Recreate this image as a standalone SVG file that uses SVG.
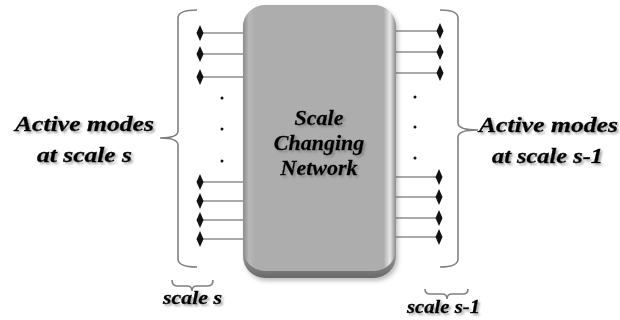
<svg xmlns="http://www.w3.org/2000/svg" width="620" height="320" viewBox="0 0 620 320">
<style>
.lbl{font-family:"Liberation Serif","Times New Roman",serif;font-weight:700;font-style:italic;fill:#000;stroke:#000;stroke-width:0.35}
.brace{fill:none;stroke:#808080;stroke-width:1.6}
.wire{stroke:#555;stroke-width:1.2}
.dot{fill:#111}
</style>
<defs>
<filter id="ts" x="-10%" y="-20%" width="130%" height="160%">
<feGaussianBlur in="SourceAlpha" stdDeviation="1"/>
<feOffset dx="2" dy="2" result="b"/>
<feFlood flood-color="#666" flood-opacity="0.55"/>
<feComposite in2="b" operator="in" result="s"/>
<feMerge><feMergeNode in="s"/><feMergeNode in="SourceGraphic"/></feMerge>
</filter>
<filter id="bs" x="-10%" y="-10%" width="130%" height="130%">
<feDropShadow dx="2" dy="3" stdDeviation="2" flood-color="#000" flood-opacity="0.25"/>
</filter>
<linearGradient id="edge" x1="0" y1="0" x2="0" y2="1">
<stop offset="0" stop-color="#c4c4c4"/>
<stop offset="0.9" stop-color="#9a9a9a"/>
<stop offset="1" stop-color="#6a6a6a"/>
</linearGradient>
<linearGradient id="side" x1="0" y1="0" x2="1" y2="0">
<stop offset="0" stop-color="#8c8c8c"/>
<stop offset="0.04" stop-color="#b8b8b8"/>
<stop offset="0.08" stop-color="#adadad"/>
<stop offset="0.92" stop-color="#adadad"/>
<stop offset="0.96" stop-color="#e8e8e8"/>
<stop offset="1" stop-color="#8a8a8a"/>
</linearGradient>
<polygon id="dm" points="0,-8 3.5,0 0,8 -3.5,0" fill="#111"/>
</defs>

<g id="network">
<rect x="243" y="5" width="153" height="273" rx="22" fill="url(#edge)" filter="url(#bs)"/>
<rect x="243" y="5" width="153" height="266" rx="22" fill="url(#side)"/>
<g filter="url(#ts)">
<text class="lbl" x="319" y="125" font-size="22" text-anchor="middle">Scale</text>
<text class="lbl" x="319" y="150" font-size="22" text-anchor="middle">Changing</text>
<text class="lbl" x="319" y="175" font-size="22" text-anchor="middle">Network</text>
</g>
</g>

<g id="connectors">
<line class="wire" x1="200" y1="33" x2="243" y2="33"/>
<line class="wire" x1="200" y1="54" x2="243" y2="54"/>
<line class="wire" x1="200" y1="77" x2="243" y2="77"/>
<line class="wire" x1="200" y1="182" x2="243" y2="182"/>
<line class="wire" x1="200" y1="201" x2="243" y2="201"/>
<line class="wire" x1="200" y1="220" x2="243" y2="220"/>
<line class="wire" x1="200" y1="239" x2="243" y2="239"/>
<line class="wire" x1="396" y1="31" x2="440" y2="31"/>
<line class="wire" x1="396" y1="52" x2="440" y2="52"/>
<line class="wire" x1="396" y1="73" x2="440" y2="73"/>
<line class="wire" x1="396" y1="177" x2="439" y2="177"/>
<line class="wire" x1="396" y1="197" x2="439" y2="197"/>
<line class="wire" x1="396" y1="218" x2="439" y2="218"/>
<line class="wire" x1="396" y1="237" x2="439" y2="237"/>
</g>

<g id="input-modes">
<use href="#dm" x="200" y="33"/>
<use href="#dm" x="200" y="54"/>
<use href="#dm" x="200" y="77"/>
<use href="#dm" x="200" y="182"/>
<use href="#dm" x="200" y="201"/>
<use href="#dm" x="200" y="220"/>
<use href="#dm" x="200" y="239"/>
<circle class="dot" cx="222" cy="98" r="1.5"/>
<circle class="dot" cx="222" cy="129" r="1.5"/>
<circle class="dot" cx="222" cy="161" r="1.5"/>
<path class="brace" d="M197,10 Q178,10 178,18 L178,131 Q178,138 160,138 Q178,138 178,145 L178,259 Q178,267 197,267"/>
<g filter="url(#ts)">
<text class="lbl" x="15" y="131" font-size="21" textLength="139" lengthAdjust="spacingAndGlyphs">Active modes</text>
<text class="lbl" x="37" y="162" font-size="21" textLength="95" lengthAdjust="spacingAndGlyphs">at scale s</text>
<text class="lbl" x="163" y="304" font-size="19" textLength="59" lengthAdjust="spacingAndGlyphs">scale s</text>
</g>
<path class="brace" d="M172,280 Q172,286 177,286 L187,286 Q192,286 192,291 Q192,286 197,286 L208,286 Q213,286 213,280"/>
</g>

<g id="output-modes">
<use href="#dm" x="440" y="31"/>
<use href="#dm" x="440" y="52"/>
<use href="#dm" x="440" y="73"/>
<use href="#dm" x="439" y="177"/>
<use href="#dm" x="439" y="197"/>
<use href="#dm" x="439" y="218"/>
<use href="#dm" x="439" y="237"/>
<circle class="dot" cx="415" cy="97" r="1.5"/>
<circle class="dot" cx="415" cy="127" r="1.5"/>
<circle class="dot" cx="415" cy="158" r="1.5"/>
<path class="brace" d="M440,10 Q458,10 458,18 L458,123 Q458,130 478,130 Q458,130 458,137 L458,259 Q458,267 440,267"/>
<g filter="url(#ts)">
<text class="lbl" x="479" y="132" font-size="21" textLength="139" lengthAdjust="spacingAndGlyphs">Active modes</text>
<text class="lbl" x="492" y="163" font-size="21" textLength="111" lengthAdjust="spacingAndGlyphs">at scale s-1</text>
<text class="lbl" x="407" y="313" font-size="19" textLength="73" lengthAdjust="spacingAndGlyphs">scale s-1</text>
</g>
<path class="brace" d="M425,289 Q425,294 430,294 L442,294 Q447,294 447,299 Q447,294 452,294 L463,294 Q468,294 468,289"/>
</g>
</svg>
